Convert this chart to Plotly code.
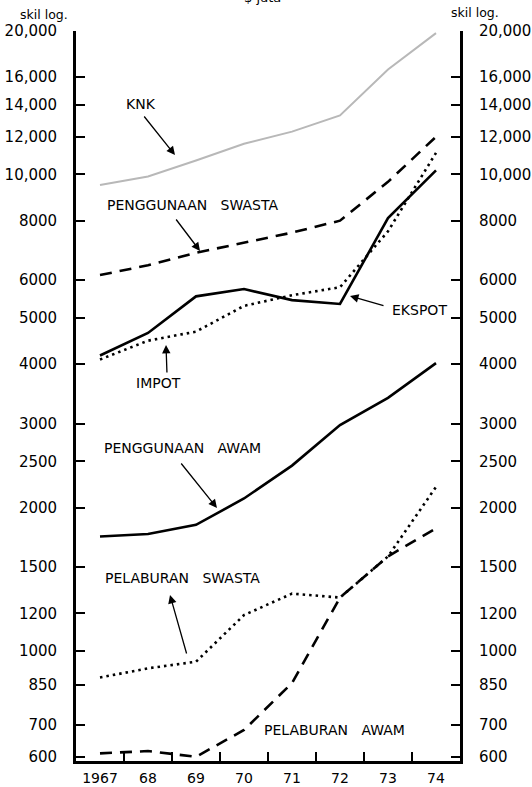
import math
import plotly.graph_objects as go

# ---------------- data ----------------
years = [1967, 1968, 1969, 1970, 1971, 1972, 1973, 1974]
year_labels = ["1967", "68", "69", "70", "71", "72", "73", "74"]

knk = [9500, 9900, 10700, 11600, 12300, 13300, 16600, 19800]
penggunaan_swasta = [6150, 6450, 6850, 7200, 7550, 8000, 9650, 12000]
ekspot = [4170, 4650, 5550, 5750, 5450, 5350, 8100, 10200]
impot = [4090, 4480, 4680, 5300, 5580, 5800, 7600, 11100]
penggunaan_awam = [1740, 1760, 1840, 2090, 2450, 2980, 3400, 4020]
pelaburan_swasta = [880, 920, 950, 1190, 1320, 1295, 1580, 2210]
pelaburan_awam = [610, 617, 600, 683, 857, 1295, 1580, 1810]

y_ticks = [600, 700, 850, 1000, 1200, 1500, 2000, 2500, 3000, 4000,
           5000, 6000, 8000, 10000, 12000, 14000, 16000, 20000]
y_tick_text = ["600", "700", "850", "1000", "1200", "1500", "2000", "2500",
               "3000", "4000", "5000", "6000", "8000", "10,000", "12,000",
               "14,000", "16,000", "20,000"]

# ---------------- layout geometry ----------------
W, H = 532, 787
L, R, T, B = 76, 72, 31, 26
PW, PH = W - L - R, H - T - B
FONT = "DejaVu Sans"


def px(x, y):
    return (x - L) / PW, (H - B - y) / PH


fig = go.Figure()

series = [
    (knk, dict(color="#b8b8b8", width=2)),
    (penggunaan_swasta, dict(color="black", width=2.6, dash="12px,8px")),
    (ekspot, dict(color="black", width=2.6)),
    (impot, dict(color="black", width=2.6, dash="2.5px,4px")),
    (penggunaan_awam, dict(color="black", width=2.6)),
    (pelaburan_swasta, dict(color="black", width=2.6, dash="2.5px,4px")),
    (pelaburan_awam, dict(color="black", width=2.6, dash="12px,8px")),
]
for vals, line in series:
    fig.add_trace(go.Scatter(x=years, y=vals, mode="lines", line=line,
                             showlegend=False, hoverinfo="skip"))

# invisible trace for right axis
fig.add_trace(go.Scatter(x=[years[0]], y=[knk[0]], yaxis="y2", mode="markers",
                         marker=dict(opacity=0), showlegend=False,
                         hoverinfo="skip"))

yrange = [math.log10(588), math.log10(20000)]

axis_common = dict(
    type="log", range=yrange, tickmode="array", tickvals=y_ticks,
    ticktext=y_tick_text, ticks="inside", ticklen=9, tickwidth=2.4,
    tickcolor="black", showline=True, linewidth=2.8, linecolor="black",
    showgrid=False, zeroline=False, ticklabelstandoff=13, automargin=False,
    tickfont=dict(family=FONT, size=15, color="black"),
)

fig.update_layout(
    width=W, height=H,
    margin=dict(l=L, r=R, t=T, b=B, pad=0, autoexpand=False),
    paper_bgcolor="white", plot_bgcolor="white",
    xaxis=dict(
        range=[1966.5, 1974.5], tickmode="array", tickvals=years,
        ticktext=year_labels, ticks="", showline=True, linewidth=2.8,
        linecolor="black", showgrid=False, zeroline=False, automargin=False,
        tickfont=dict(family=FONT, size=14, color="black"),
        ticklabelstandoff=2,
        minor=dict(tickmode="array",
                   tickvals=[1967.5, 1968.5, 1969.5, 1970.5, 1971.5, 1972.5, 1973.5],
                   ticks="inside", ticklen=9, tickwidth=2.4, tickcolor="black",
                   showgrid=False),
    ),
    yaxis=dict(**axis_common, side="left"),
    yaxis2=dict(**axis_common, side="right", overlaying="y"),
)

NB = "\u00a0"
anns = []


def label(text, xl, yc, size=14):
    x, y = px(xl, yc)
    anns.append(dict(text=text, x=x, y=y, xref="paper", yref="paper",
                     xanchor="left", yanchor="middle", showarrow=False,
                     font=dict(family=FONT, size=size, color="black")))


def arrow(tail, head):
    x, y = px(*head)
    anns.append(dict(text="", x=x, y=y, xref="paper", yref="paper",
                     ax=tail[0] - head[0], ay=tail[1] - head[1],
                     axref="pixel", ayref="pixel", showarrow=True,
                     arrowhead=2, arrowsize=1.3, arrowwidth=1.3,
                     arrowcolor="black", standoff=0, startstandoff=0))


label("KNK", 124, 104)
arrow((143, 115), (175, 155))
label("PENGGUNAAN" + NB * 3 + "SWASTA", 105, 205)
arrow((175, 218), (200, 251))
label("EKSPOT", 390, 310)
arrow((385, 306), (350, 296))
label("IMPOT", 134, 383)
arrow((167, 374), (166, 345))
label("PENGGUNAAN" + NB * 3 + "AWAM", 102, 448)
arrow((180, 462), (217, 508))
label("PELABURAN" + NB * 3 + "SWASTA", 103, 578)
arrow((187, 655), (170, 595))
label("PELABURAN" + NB * 3 + "AWAM", 262, 730)

# axis unit labels
for xc, yc in [(44, 14), (475, 13)]:
    x, y = px(xc, yc)
    anns.append(dict(text="skil log.", x=x, y=y, xref="paper", yref="paper",
                     xanchor="center", yanchor="middle", showarrow=False,
                     font=dict(family=FONT, size=12.5, color="black")))

# cut-off title at very top
x, y = px(262, 7)
anns.append(dict(text="$ juta", x=x, y=y, xref="paper", yref="paper",
                 xanchor="center", yanchor="bottom", showarrow=False,
                 font=dict(family=FONT, size=13, color="black")))

fig.update_layout(annotations=anns)
fig.write_html("out.html",
               config={"displayModeBar": False},
               post_script="document.body.style.margin='0';"
                           "document.body.style.overflow='hidden';")
